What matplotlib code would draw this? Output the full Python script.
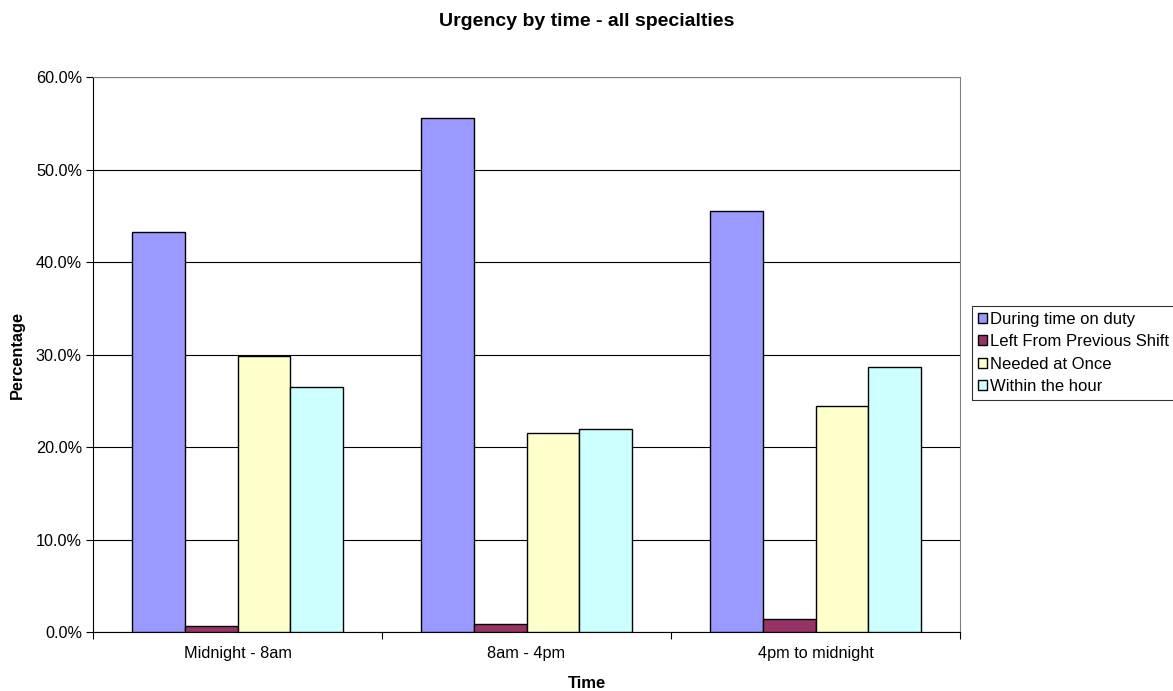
import matplotlib.pyplot as plt
import numpy as np
from matplotlib.ticker import PercentFormatter

plt.rcParams['font.family'] = ['Liberation Sans', 'DejaVu Sans']

# Données
categories = ["Midnight - 8am", "8am - 4pm", "4pm to midnight"]
series_names = ["During time on duty", "Left From Previous Shift", "Needed at Once", "Within the hour"]
during = [43.2, 55.6, 45.5]
left_prev = [0.6, 0.9, 1.4]
needed = [29.8, 21.5, 24.4]
within = [26.5, 21.9, 28.7]
colors = ["#9999FF", "#993366", "#FFFFCC", "#CCFFFF"]

W, H = 1173, 691
fig = plt.figure(figsize=(W / 100, H / 100), dpi=100)
ax = fig.add_axes([93 / W, 1 - 632 / H, (960 - 93) / W, (632 - 77) / H])

x = np.arange(len(categories))
w = 1 / 5.5
for i, (vals, name) in enumerate(zip([during, left_prev, needed, within], series_names)):
    ax.bar(x + (i - 1.5) * w, vals, width=w, color=colors[i], edgecolor='black',
           linewidth=1, label=name, zorder=3)

ax.set_xlim(-0.5, len(categories) - 0.5)
ax.set_ylim(0, 60)
ax.set_yticks(np.arange(0, 61, 10))
ax.yaxis.set_major_formatter(PercentFormatter(decimals=1))
ax.grid(axis='y', color='black', linewidth=0.8, zorder=0)

# ticks entre les catégories
ax.set_xticks(np.arange(-0.5, len(categories), 1))
ax.set_xticklabels([])
ax.set_xticks(x, minor=True)
ax.set_xticklabels(categories, minor=True, fontsize=11.7)
ax.tick_params(axis='x', which='minor', length=0, pad=10)
ax.tick_params(axis='x', which='major', length=5, direction='out', color='black')
ax.tick_params(axis='y', length=5, direction='out', labelsize=11.7, pad=3)

for s in ['top', 'right']:
    ax.spines[s].set_color('#808080')
for s in ['left', 'bottom']:
    ax.spines[s].set_color('black')

fig.text(0.5, 1 - 683 / H, "Time", fontsize=12, fontweight='bold', ha='center', va='center')
fig.text(17 / W, 1 - 355 / H, "Percentage", fontsize=11.8, fontweight='bold',
         rotation=90, ha='center', va='center')
fig.text(0.5, 1 - 21 / H, "Urgency by time - all specialties", fontsize=14,
         fontweight='bold', ha='center', va='center')

leg = ax.legend(loc='upper left', bbox_to_anchor=(972 / W, 1 - 306 / H),
                bbox_transform=fig.transFigure, fontsize=12, frameon=True, fancybox=False,
                handlelength=0.55, handleheight=0.55, handletextpad=0.2, borderpad=0.35,
                labelspacing=0.45, borderaxespad=0)
leg.get_frame().set_edgecolor('black')
leg.get_frame().set_linewidth(0.8)

fig.savefig("out.png", dpi=100)
